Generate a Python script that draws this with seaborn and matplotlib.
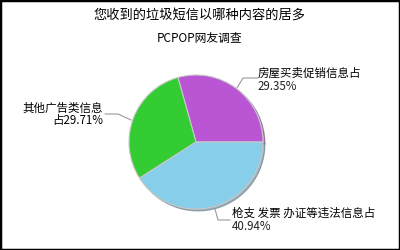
import matplotlib
matplotlib.use("Agg")
import matplotlib.pyplot as plt
import seaborn as sns

title = "您收到的垃圾短信以哪种内容的居多"
subtitle = "PCPOP网友调查"
categories = ["房屋买卖促销信息占", "其他广告类信息\n占", "枪支 发票 办证等违法信息占"]
values = [29.35, 29.71, 40.94]
colors = ["#BA55D3", "#33CC33", "#87CEEB"]

sns.set_theme(style="white")
plt.rcParams['font.family'] = ['Noto Sans CJK SC', 'DejaVu Sans']

fig = plt.figure(figsize=(4, 2.5), dpi=100)
ax = fig.add_axes([0, 0, 1, 1])
ax.set_xlim(0, 400)
ax.set_ylim(250, 0)
ax.set_aspect('equal')
ax.axis('off')

cx, cy, r = 196, 142, 67
wedges, _ = ax.pie(values, colors=colors, startangle=0, counterclock=False,
                   center=(cx, cy), radius=r, frame=True,
                   wedgeprops=dict(edgecolor='#c8c8c8', linewidth=0.8),
                   shadow=dict(ox=1.4, oy=1.4, shade=0.5))
ax.set_xlim(0, 400)
ax.set_ylim(250, 0)
ax.axis('off')

# border
fig.patches.append(plt.Rectangle((0, 0), 1, 1, transform=fig.transFigure,
                                 fill=False, edgecolor='black', linewidth=2.5))

fig.text(0.5, 1 - 15 / 250, title, ha='center', va='center', fontsize=9.5, color='black')
fig.text(0.5, 1 - 38 / 250, subtitle, ha='center', va='center', fontsize=8.5, color='black')

lc = '#999999'
fs = 8.3
# purple label
ax.plot([258, 243, 237], [78, 78, 88], color=lc, lw=0.8)
ax.text(258, 80, categories[0], ha='left', va='bottom', fontsize=fs, color='black')
ax.text(258, 80, f"{values[0]:.2f}%", ha='left', va='top', fontsize=fs, color='#222222')
# green label
ax.plot([105, 118, 131], [114, 114, 120], color=lc, lw=0.8)
ax.text(103, 114, categories[1] + f"{values[1]:.2f}%", ha='right', va='center',
        fontsize=fs, color='black', linespacing=0.95, multialignment='right')
# blue label
ax.plot([215, 218, 230], [209, 220, 220], color=lc, lw=0.8)
ax.text(232, 220, categories[2], ha='left', va='bottom', fontsize=fs, color='black')
ax.text(232, 220, f"{values[2]:.2f}%", ha='left', va='top', fontsize=fs, color='#222222')

fig.savefig("out.png", dpi=100)
